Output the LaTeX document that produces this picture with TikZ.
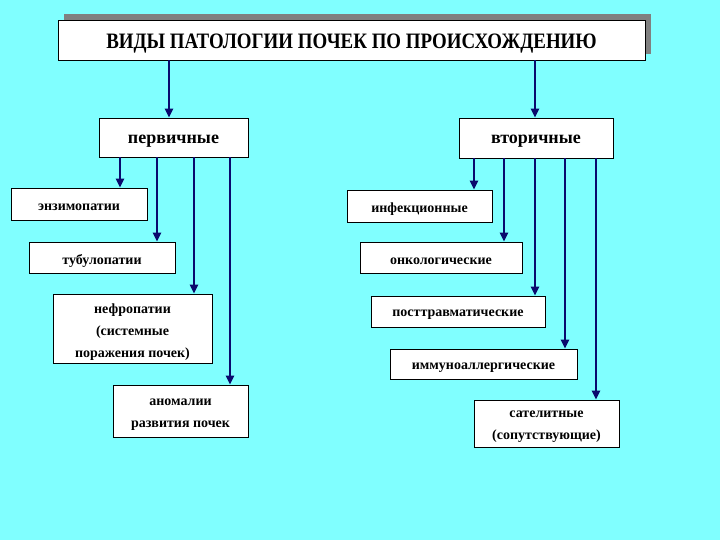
\documentclass[tikz,border=0pt]{standalone}
\usepackage{fontspec}
\setmainfont{Liberation Serif}
\usetikzlibrary{arrows.meta,calc}
\definecolor{bgc}{RGB}{128,255,255}
\definecolor{navy}{RGB}{10,10,110}
\definecolor{shadowc}{RGB}{128,128,128}
\tikzset{
  box/.style={draw=black,line width=0.8pt,fill=white,rectangle,inner sep=0pt},
  txt/.style={inner sep=0pt,align=center,font=\bfseries\fontsize{14}{22}\selectfont},
  arr/.style={draw=navy,line width=2.6pt,-{Triangle[length=9pt,width=8pt]}},
}
\newcommand{\bx}[6]{% name, x1, y1, x2, y2, text
  \node[box,minimum width=#4pt-#2pt,minimum height=#5pt-#3pt] (#1) at ({(#2+#4)/2},{(#3+#5)/2}) {};
  \node[txt] (#1T) at ([yshift=-3.5pt]#1.center) {#6};}
\begin{document}
\begin{tikzpicture}[x=1pt,y=-1pt]
\fill[bgc] (0,0) rectangle (720,540);
\useasboundingbox (0,0) rectangle (720,540);
% title shadow
\fill[shadowc] (64,14) rectangle (651,54);
\bx{title}{58}{20}{645}{60}{\scalebox{0.86}[1]{\fontsize{22}{24}\selectfont ВИДЫ ПАТОЛОГИИ ПОЧЕК ПО ПРОИСХОЖДЕНИЮ}}
\bx{p}{99}{118}{248}{157}{\fontsize{18}{20}\selectfont первичные}
\bx{v}{459}{118}{613}{158}{\fontsize{18}{20}\selectfont вторичные}
\bx{e}{11}{188}{147}{220}{энзимопатии}
\bx{t}{29}{242}{175}{273}{тубулопатии}
\bx{n}{53}{294}{212}{363}{нефропатии\\(системные\\поражения почек)}
\bx{a}{113}{385}{248}{437}{аномалии\\развития почек}
\bx{i}{347}{190}{492}{222}{инфекционные}
\bx{o}{360}{242}{522}{273}{онкологические}
\bx{pt}{371}{296}{545}{327}{посттравматические}
\bx{im}{390}{349}{577}{379}{иммуноаллергические}
\bx{s}{474}{400}{619}{447}{сателитные\\(сопутствующие)}
% arrow x positions
\coordinate (x1) at (169,0);
\coordinate (x2) at (535,0);
\coordinate (xe) at (120,0);
\coordinate (xt) at (157,0);
\coordinate (xn) at (194,0);
\coordinate (xa) at (230,0);
\coordinate (xi) at (474,0);
\coordinate (xo) at (504,0);
\coordinate (xpt) at (535,0);
\coordinate (xim) at (565,0);
\coordinate (xs) at (596,0);
\draw[arr] (title.south -| x1) -- (p.north -| x1);
\draw[arr] (title.south -| x2) -- (v.north -| x2);
\draw[arr] (p.south -| xe) -- (e.north -| xe);
\draw[arr] (p.south -| xt) -- (t.north -| xt);
\draw[arr] (p.south -| xn) -- (n.north -| xn);
\draw[arr] (p.south -| xa) -- (a.north -| xa);
\draw[arr] (v.south -| xi) -- (i.north -| xi);
\draw[arr] (v.south -| xo) -- (o.north -| xo);
\draw[arr] (v.south -| xpt) -- (pt.north -| xpt);
\draw[arr] (v.south -| xim) -- (im.north -| xim);
\draw[arr] (v.south -| xs) -- (s.north -| xs);
\end{tikzpicture}
\end{document}
